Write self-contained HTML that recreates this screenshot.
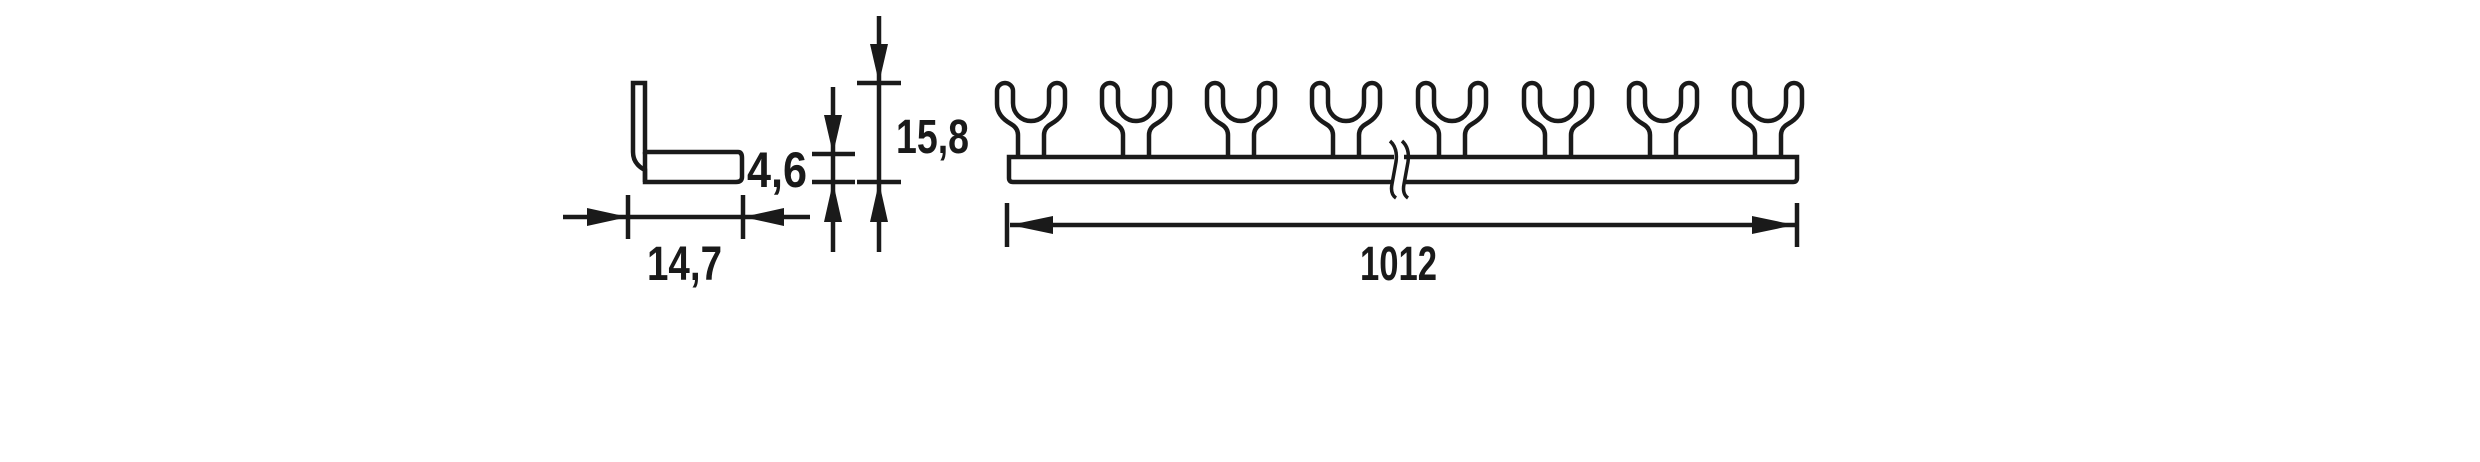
<!DOCTYPE html>
<html><head><meta charset="utf-8"><style>
html,body{margin:0;padding:0;background:#fff}
svg{display:block}
text{font-family:"Liberation Sans Narrow","Liberation Sans",sans-serif;font-weight:bold;fill:#1a1a1a}
</style></head><body>
<svg width="2480" height="462" viewBox="0 0 2480 462" xmlns="http://www.w3.org/2000/svg">
<defs>
<path id="fork" d="M-13,157 L-13,135 Q-13,128 -20,124 Q-34,116 -34,104 L-34,91 A8,8 0 0 1 -18,91 L-18,103 A18,18 0 0 0 18,103 L18,91 A8,8 0 0 1 34,91 L34,104 Q34,116 20,124 Q13,128 13,135 L13,157" fill="none" stroke="#1a1a1a" stroke-width="4.5" stroke-linejoin="round"/>
</defs>
<g stroke="#1a1a1a" stroke-width="4.5" fill="none">
<!-- L shape -->
<path d="M633,83 L645,83 L645,152 L738,152 Q742,152 742,158 L742,177 Q742,182 736,182 L645,182 L645,170 Q633,164 633,152 Z"/>
<line x1="645" y1="152" x2="645" y2="182"/>
<!-- 14,7 dim -->
<line x1="563" y1="217" x2="810" y2="217"/>
<line x1="628" y1="195" x2="628" y2="239"/>
<line x1="743" y1="195" x2="743" y2="239"/>
<!-- 4,6 dim -->
<line x1="833" y1="87" x2="833" y2="252"/>
<line x1="812" y1="154" x2="855" y2="154"/>
<line x1="812" y1="182" x2="855" y2="182"/>
<!-- 15,8 dim -->
<line x1="879" y1="16" x2="879" y2="252"/>
<line x1="857" y1="83" x2="901" y2="83"/>
<line x1="857" y1="182" x2="901" y2="182"/>
<!-- bar -->
<path d="M1394,157 L1009,157 L1009,178 Q1009,182 1013,182 L1393,182"/>
<path d="M1404,157 L1797,157 L1797,178 Q1797,182 1793,182 L1403,182"/>
<!-- 1012 dim -->
<line x1="1007" y1="203" x2="1007" y2="247"/>
<line x1="1797" y1="203" x2="1797" y2="247"/>
<line x1="1010" y1="225" x2="1795" y2="225"/>
</g>
<g fill="#1a1a1a">
<polygon points="587,208 628,217 587,226"/>
<polygon points="784,208 743,217 784,226"/>
<polygon points="824,115 842,115 833,154"/>
<polygon points="824,222 842,222 833,182"/>
<polygon points="870,44 888,44 879,83"/>
<polygon points="870,222 888,222 879,182"/>
<polygon points="1053,216 1010,225 1053,234"/>
<polygon points="1752,216 1795,225 1752,234"/>
</g>
<use href="#fork" x="1031" y="0"/>
<use href="#fork" x="1136" y="0"/>
<use href="#fork" x="1241" y="0"/>
<use href="#fork" x="1346" y="0"/>
<use href="#fork" x="1452" y="0"/>
<use href="#fork" x="1558" y="0"/>
<use href="#fork" x="1663" y="0"/>
<use href="#fork" x="1768" y="0"/>
<!-- break marks -->
<g stroke="#1a1a1a" stroke-width="3.5" fill="none">
<path d="M1390,141 Q1398,148 1396,162 L1392,184 Q1390,194 1396,198"/>
<path d="M1402,141 Q1410,148 1408,162 L1404,184 Q1402,194 1408,198"/>
</g>
<text x="647" y="280" font-size="48" textLength="75" lengthAdjust="spacingAndGlyphs">14,7</text>
<text x="747" y="187" font-size="50" textLength="60" lengthAdjust="spacingAndGlyphs">4,6</text>
<text x="896" y="153" font-size="48" textLength="73" lengthAdjust="spacingAndGlyphs">15,8</text>
<text x="1360" y="280" font-size="48" textLength="77" lengthAdjust="spacingAndGlyphs">1012</text>
</svg>
</body></html>
